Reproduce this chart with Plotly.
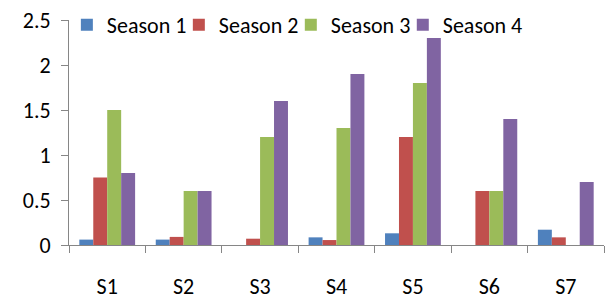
import plotly.graph_objects as go

categories = ["S1", "S2", "S3", "S4", "S5", "S6", "S7"]
season1 = [0.06, 0.06, None, 0.085, 0.13, None, 0.17]
season2 = [0.75, 0.09, 0.07, 0.055, 1.2, 0.6, 0.085]
season3 = [1.5, 0.6, 1.2, 1.3, 1.8, 0.6, None]
season4 = [0.8, 0.6, 1.6, 1.9, 2.3, 1.4, 0.7]
names = ["Season 1", "Season 2", "Season 3", "Season 4"]
colors = ["#4F81BD", "#C0504D", "#9BBB59", "#8064A2"]

font = dict(family="Carlito, Lato, sans-serif", size=22, color="#000000")
legend_ids = ["legend", "legend2", "legend3", "legend4"]

fig = go.Figure()
for name, vals, c, lg in zip(names, [season1, season2, season3, season4], colors, legend_ids):
    fig.add_trace(go.Bar(x=categories, y=vals, name=name, marker_color=c,
                         marker_line_width=0, legend=lg))

legend_layout = {}
for i, lg in enumerate(legend_ids):
    legend_layout[lg] = dict(orientation="h", x=-0.004 + i * 0.2093, xanchor="left",
                             y=0.978, yanchor="middle", font=font,
                             bgcolor="rgba(0,0,0,0)", itemwidth=30)

fig.update_layout(
    width=605, height=301,
    margin=dict(l=69, r=1, t=20, b=56, autoexpand=False),
    paper_bgcolor="white", plot_bgcolor="white",
    barmode="group", bargap=0.27, bargroupgap=0,
    font=font,
    showlegend=True,
    xaxis=dict(showline=True, linecolor="#868686", linewidth=1, automargin=False,
               ticks="outside", tickson="boundaries", ticklen=7, tickcolor="#868686",
               showgrid=False, ticklabelstandoff=22, tickfont=font),
    yaxis=dict(range=[0, 2.5], dtick=0.5, showline=True, linecolor="#868686", linewidth=1,
               ticks="outside", ticklen=7, tickcolor="#868686", showgrid=False, automargin=False,
               zeroline=False, tickfont=font, tickformat="~g", ticklabelstandoff=6),
    **legend_layout,
)
fig.write_html("out.html", config={"displayModeBar": False},
               post_script="document.body.style.margin='0px';")
